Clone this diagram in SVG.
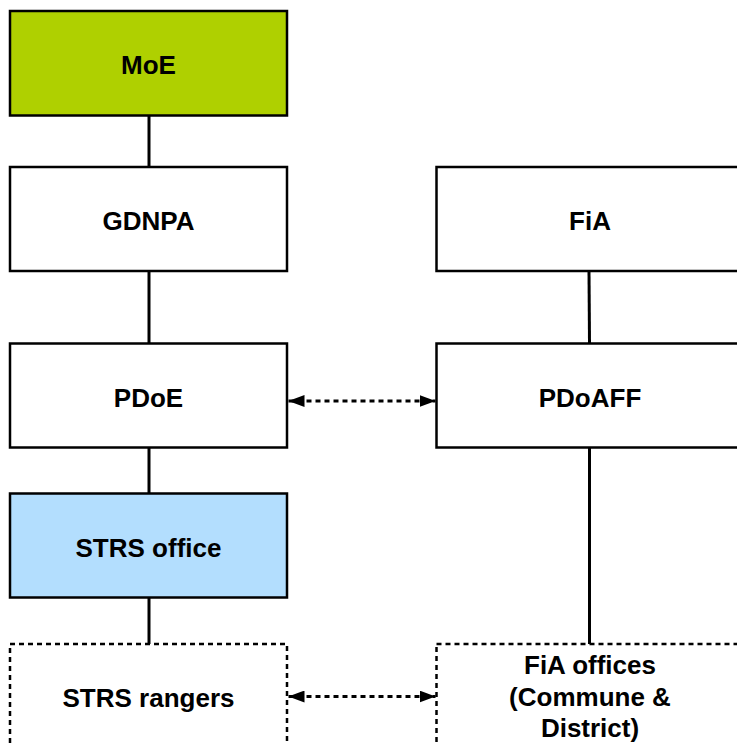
<svg xmlns="http://www.w3.org/2000/svg" width="737" height="745" viewBox="0 0 737 745">
<style>
.box{fill:#ffffff;stroke:#000;stroke-width:2.5}
.dbox{fill:#ffffff;stroke:#000;stroke-width:2.5;stroke-dasharray:5 4}
.lbl{font-family:"Liberation Sans",Arial,sans-serif;font-weight:bold;font-size:26px;text-anchor:middle;fill:#000}
.ln{stroke:#000;stroke-width:3;fill:none}
.dl{stroke:#000;stroke-width:2.8;fill:none;stroke-dasharray:5 4}
</style>
<defs>
<marker id="ah" viewBox="0 0 16 12" refX="16" refY="6" markerWidth="16" markerHeight="12" markerUnits="userSpaceOnUse" orient="auto-start-reverse">
<path d="M0,0 L16,6 L0,12 Z" fill="#000"/>
</marker>
</defs>
<g id="connectors">
<line class="ln" x1="149" y1="115" x2="149" y2="167"/>
<line class="ln" x1="149" y1="271" x2="149" y2="343"/>
<line class="ln" x1="149" y1="447" x2="149" y2="493"/>
<line class="ln" x1="149" y1="598" x2="149" y2="644"/>
<line class="ln" x1="589" y1="271" x2="589.5" y2="343"/>
<line class="ln" x1="589.5" y1="447" x2="589.5" y2="644"/>
<line class="dl" x1="288.5" y1="401" x2="435.5" y2="401" marker-start="url(#ah)" marker-end="url(#ah)"/>
<line class="dl" x1="288.5" y1="696.5" x2="435.5" y2="696.5" marker-start="url(#ah)" marker-end="url(#ah)"/>
</g>
<g id="moe"><rect class="box" x="10" y="11" width="277" height="104.5" style="fill:#afd000"/><text class="lbl" x="148.5" y="74">MoE</text></g>
<g id="gdnpa"><rect class="box" x="10" y="167" width="277" height="104"/><text class="lbl" x="148.5" y="230">GDNPA</text></g>
<g id="pdoe"><rect class="box" x="10" y="343.5" width="277" height="104"/><text class="lbl" x="148.5" y="406.5">PDoE</text></g>
<g id="strs-office"><rect class="box" x="10" y="493.5" width="277" height="104" style="fill:#b3defe"/><text class="lbl" x="148.5" y="557">STRS office</text></g>
<g id="strs-rangers"><rect class="dbox" x="10" y="644" width="277" height="110"/><text class="lbl" x="148.5" y="707">STRS rangers</text></g>
<g id="fia"><rect class="box" x="436.5" y="167" width="308" height="104"/><text class="lbl" x="590" y="230">FiA</text></g>
<g id="pdoaff"><rect class="box" x="436.5" y="343.5" width="308" height="104"/><text class="lbl" x="590" y="406.5">PDoAFF</text></g>
<g id="fia-offices"><rect class="dbox" x="436.5" y="644" width="308" height="110"/><text class="lbl" x="590" y="674">FiA offices</text><text class="lbl" x="590" y="705.5">(Commune &amp;</text><text class="lbl" x="590" y="737">District)</text></g>
</svg>
